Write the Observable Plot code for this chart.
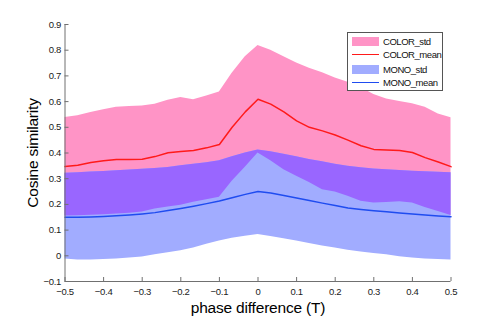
<!DOCTYPE html>
<html><head><meta charset="utf-8">
<script src="https://cdn.jsdelivr.net/npm/d3@7"></script>
<script src="https://cdn.jsdelivr.net/npm/@observablehq/plot@0.6"></script>
<style>
html,body{margin:0;padding:0;background:#fff;}
#wrap{position:relative;width:498px;height:316px;font-family:"Liberation Sans",Arial,sans-serif;}
#wrap svg{font-family:"Liberation Sans",Arial,sans-serif;}
#wrap svg g[aria-label="y-axis tick label"] text,#wrap svg g[aria-label="x-axis tick label"] text{font-size:9.5px;letter-spacing:-0.3px;fill:#1a1a1a;}
#wrap svg g[aria-label="y-axis label"] text,#wrap svg g[aria-label="x-axis label"] text{font-size:15.5px;letter-spacing:-0.2px;fill:#000;}
#legend{position:absolute;left:347px;top:32px;width:96px;height:59px;border:1px solid #555;background:#fff;box-sizing:border-box;}
.row{position:absolute;left:4px;height:12px;display:flex;align-items:center;font-size:9.5px;letter-spacing:-0.45px;color:#111;}
.sw{width:27px;margin-right:4px;}
</style></head>
<body><div id="wrap"><div id="legend"></div></div>
<script>
const phase = [-0.5,-0.467,-0.433,-0.4,-0.367,-0.333,-0.3,-0.267,-0.233,-0.2,-0.167,-0.133,-0.1,-0.067,-0.033,0,0.033,0.067,0.1,0.133,0.167,0.2,0.233,0.267,0.3,0.333,0.367,0.4,0.433,0.467,0.5];
const colorHi = [0.538,0.545,0.558,0.568,0.578,0.581,0.583,0.59,0.605,0.616,0.607,0.622,0.637,0.71,0.775,0.818,0.80,0.775,0.75,0.73,0.712,0.692,0.675,0.655,0.628,0.61,0.60,0.592,0.578,0.552,0.537];
const colorMean = [0.347,0.352,0.363,0.370,0.375,0.375,0.376,0.386,0.401,0.406,0.41,0.42,0.433,0.50,0.56,0.609,0.59,0.56,0.525,0.50,0.486,0.47,0.45,0.428,0.414,0.412,0.41,0.402,0.382,0.365,0.347];
const colorLo = [0.155,0.156,0.158,0.16,0.163,0.166,0.17,0.182,0.19,0.197,0.208,0.218,0.228,0.29,0.345,0.40,0.37,0.335,0.31,0.285,0.257,0.248,0.232,0.212,0.205,0.207,0.21,0.205,0.188,0.172,0.157];
const monoHi = [0.321,0.323,0.326,0.328,0.331,0.334,0.337,0.340,0.344,0.35,0.356,0.362,0.37,0.385,0.40,0.412,0.405,0.395,0.385,0.375,0.366,0.356,0.348,0.343,0.338,0.335,0.332,0.329,0.327,0.325,0.323];
const monoMean = [0.150,0.150,0.151,0.153,0.156,0.159,0.163,0.168,0.176,0.184,0.193,0.203,0.213,0.226,0.239,0.25,0.244,0.235,0.225,0.215,0.205,0.196,0.186,0.18,0.175,0.171,0.167,0.163,0.159,0.155,0.152];
const monoLo = [-0.012,-0.016,-0.016,-0.014,-0.012,-0.009,-0.005,0.004,0.012,0.02,0.03,0.045,0.058,0.068,0.076,0.083,0.075,0.066,0.058,0.048,0.038,0.03,0.022,0.015,0.009,0.004,-0.004,-0.009,-0.012,-0.014,-0.016];
const xTicks = [-0.5,-0.4,-0.3,-0.2,-0.1,0,0.1,0.2,0.3,0.4,0.5];
const yTicks = [-0.1,0,0.1,0.2,0.3,0.4,0.5,0.6,0.7,0.8,0.9];
const xDomain = [-0.5,0.5];
const yDomain = [-0.1,0.9];
const seriesNames = ["COLOR_std","COLOR_mean","MONO_std","MONO_mean"];

const C = {pink:"#ff94c6", red:"#ff1a1a", lblue:"#a1acff", blue:"#1f4cf0", purple:"#9966ff", axis:"#707070"};

const rows = phase.map((p,i)=>({p, cHi:colorHi[i], cM:colorMean[i], cLo:colorLo[i], mHi:monoHi[i], mM:monoMean[i], mLo:monoLo[i],
  oLo:Math.max(colorLo[i],monoLo[i]), oHi:Math.min(colorHi[i],monoHi[i])}));

const W=498,H=316,mL=64.5,mR=47.5,mT=24,mB=35;
const plotW=W-mL-mR, plotH=H-mT-mB;

const chart = Plot.plot({
  width:W,height:H,marginLeft:mL,marginRight:mR,marginTop:mT,marginBottom:mB,
  style:{background:"transparent",fontSize:"10px",color:"#222"},
  x:{domain:xDomain},
  y:{domain:yDomain},
  marks:[
    Plot.areaY(rows,{x:"p",y1:"cLo",y2:"cHi",fill:C.pink}),
    Plot.areaY(rows,{x:"p",y1:"mLo",y2:"mHi",fill:C.lblue}),
    Plot.areaY(rows,{x:"p",y1:"oLo",y2:"oHi",fill:C.purple}),
    Plot.lineY(rows,{x:"p",y:"cM",stroke:C.red,strokeWidth:1.5}),
    Plot.lineY(rows,{x:"p",y:"mM",stroke:C.blue,strokeWidth:1.5}),
    Plot.ruleX([xDomain[0]],{stroke:C.axis}),
    Plot.ruleY([yDomain[0]],{stroke:C.axis}),
    Plot.tickX(xTicks,{x:d=>d,stroke:C.axis,insetTop:plotH-4}),
    Plot.tickY(yTicks,{y:d=>d,stroke:C.axis,insetRight:plotW-4}),
    Plot.axisX(xTicks,{tickSize:0,tickPadding:7,tickFormat:d=>d3.format("")(d),label:"phase difference (T)",labelAnchor:"center",labelArrow:"none",labelOffset:31}),
    Plot.axisY(yTicks,{tickSize:0,tickPadding:4,tickFormat:d=>d3.format("")(d),label:"Cosine similarity",labelAnchor:"center",labelArrow:"none",labelOffset:38})
  ]
});
document.getElementById("wrap").prepend(chart);

const leg = document.getElementById("legend");
const legStyle = [
  {type:"area",color:C.pink},{type:"line",color:C.red},{type:"area",color:C.lblue},{type:"line",color:C.blue}
];
const rowTops=[2,15.5,30,43.5];
seriesNames.forEach((n,i)=>{
  const r=document.createElement("div");r.className="row";r.style.top=rowTops[i]+"px";
  const s=document.createElement("div");s.className="sw";
  if(legStyle[i].type==="area"){s.style.height="9px";s.style.background=legStyle[i].color;}
  else{s.style.height="1.5px";s.style.background=legStyle[i].color;}
  const t=document.createElement("span");t.textContent=n;
  r.appendChild(s);r.appendChild(t);leg.appendChild(r);
});
</script></body></html>
